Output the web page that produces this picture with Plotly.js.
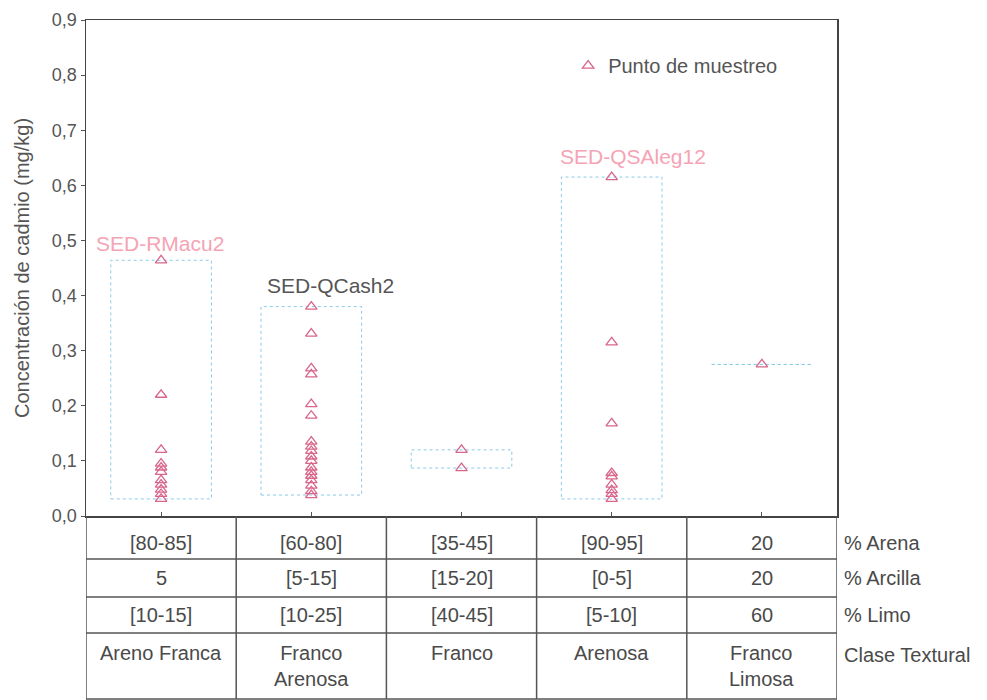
<!DOCTYPE html>
<html>
<head>
<meta charset="utf-8">
<script src="https://cdn.plot.ly/plotly-3.0.1.min.js"></script>
<style>html,body{margin:0;padding:0;background:#fff;}#chart{width:987px;height:700px;}</style>
</head>
<body>
<div id="chart"></div>
<script>
// ---- data ----
const categories = ["Areno Franca", "Franco Arenosa", "Franco", "Arenosa", "Franco Limosa"];
const cadmio0 = [0.464, 0.22, 0.12, 0.095, 0.088, 0.08, 0.065, 0.057, 0.048, 0.04, 0.031];
const cadmio1 = [0.38, 0.331, 0.268, 0.257, 0.203, 0.182, 0.135, 0.126, 0.118, 0.108, 0.1, 0.088, 0.08, 0.073, 0.065, 0.055, 0.045, 0.038];
const cadmio2 = [0.12, 0.087];
const cadmio3 = [0.615, 0.315, 0.168, 0.078, 0.072, 0.057, 0.047, 0.04, 0.031];
const cadmio4 = [0.275];
const series = [cadmio0, cadmio1, cadmio2, cadmio3, cadmio4];

const pctArena   = ["[80-85]", "[60-80]", "[35-45]", "[90-95]", "20"];
const pctArcilla = ["5", "[5-15]", "[15-20]", "[0-5]", "20"];
const pctLimo    = ["[10-15]", "[10-25]", "[40-45]", "[5-10]", "60"];
const claseTextural = ["Areno Franca", "Franco<br>Arenosa", "Franco", "Arenosa", "Franco<br>Limosa"];
const rowLabels = ["% Arena", "% Arcilla", "% Limo", "Clase Textural"];

const sampleLabels = ["SED-RMacu2", "SED-QCash2", "SED-QSAleg12"];
const sampleLabelCat = [-0.01, 1.13, 3.14];
const sampleLabelY = [0.495, 0.418, 0.652];
const sampleLabelColor = ["#f5a3b5", "#555555", "#f5a3b5"];

// ---- traces ----
const xs = [], ys = [];
series.forEach((arr, i) => arr.forEach(v => { xs.push(i); ys.push(v); }));

const traces = [{
  type: "scatter", mode: "markers", name: "Punto de muestreo",
  x: xs, y: ys,
  marker: {symbol: "triangle-up-open", size: 10, color: "#d8668a", line: {width: 1.3, color: "#d8668a"}},
  hoverinfo: "y"
}];

// ---- shapes ----
const shapes = [];
const hw = 0.335;
series.forEach((arr, i) => {
  const mn = Math.min(...arr), mx = Math.max(...arr);
  shapes.push({type: "rect", xref: "x", yref: "y", x0: i - hw, x1: i + hw, y0: mn, y1: mx,
    line: {color: "#8ccbe8", width: 1, dash: "dot"}, layer: "below"});
});
// table geometry (paper coordinates below the plot)
const plotTopPx = 20, plotBotPx = 516, plotH = plotBotPx - plotTopPx;
const py = p => (plotBotPx - p) / plotH;
const rowLinesPx = [559, 597, 633, 699];
const tableBottom = py(699);
const lineStyle = {color: "#555", width: 1.5};
rowLinesPx.forEach(p => {
  shapes.push({type: "line", xref: "paper", yref: "paper", x0: 0, x1: 1, y0: py(p), y1: py(p), line: lineStyle});
});
for (let i = 0; i <= categories.length; i++) {
  shapes.push({type: "line", xref: "x", yref: "paper", x0: i - 0.5, x1: i - 0.5, y0: 0, y1: tableBottom, line: lineStyle});
}

// ---- annotations ----
const annotations = [];
const txtFont = {family: "Liberation Sans, Arial, sans-serif", size: 20, color: "#4a4a4a"};
const rowCentersPx = [543, 578, 615];
[pctArena, pctArcilla, pctLimo].forEach((row, r) => {
  row.forEach((t, i) => annotations.push({xref: "x", yref: "paper", x: i, y: py(rowCentersPx[r]),
    text: t, showarrow: false, font: txtFont, xanchor: "center", yanchor: "middle"}));
});
claseTextural.forEach((t, i) => annotations.push({xref: "x", yref: "paper", x: i, y: py(640),
  text: t, showarrow: false, font: txtFont, xanchor: "center", yanchor: "top"}));
const rowLabelPx = [543, 578, 615, 655];
rowLabels.forEach((t, r) => annotations.push({xref: "paper", yref: "paper", x: 1.006, y: py(rowLabelPx[r]),
  text: t, showarrow: false, font: txtFont, xanchor: "left", yanchor: "middle"}));
sampleLabels.forEach((t, i) => annotations.push({xref: "x", yref: "y", x: sampleLabelCat[i], y: sampleLabelY[i],
  text: t, showarrow: false, xanchor: "center", yanchor: "middle",
  font: {family: "Liberation Sans, Arial, sans-serif", size: 21, color: sampleLabelColor[i]}}));

const layout = {
  width: 987, height: 700,
  margin: {l: 86, r: 150, t: 20, b: 184},
  paper_bgcolor: "#ffffff", plot_bgcolor: "#ffffff",
  separators: ",.",
  font: {family: "Liberation Sans, Arial, sans-serif", color: "#555"},
  showlegend: true,
  legend: {x: 0.642, y: 0.908, xanchor: "left", yanchor: "middle", bgcolor: "rgba(0,0,0,0)",
    font: {family: "Liberation Sans, Arial, sans-serif", size: 20, color: "#555"}},
  xaxis: {range: [-0.5, 4.5], tickvals: [0, 1, 2, 3, 4], ticktext: ["", "", "", "", ""],
    showgrid: false, zeroline: false, showline: true, linecolor: "#444", linewidth: 1.5, mirror: true,
    ticks: "inside", ticklen: 4, tickcolor: "#555", fixedrange: true},
  yaxis: {range: [0, 0.9], dtick: 0.1, tickformat: ".1f", showgrid: false, zeroline: false,
    showline: true, linecolor: "#444", linewidth: 1.5, mirror: true, ticks: "outside", ticklen: 4, tickcolor: "#555",
    tickfont: {size: 18, color: "#555"},
    title: {text: "Concentración de cadmio (mg/kg)", font: {size: 20, color: "#555"}, standoff: 17},
    fixedrange: true},
  shapes: shapes,
  annotations: annotations
};

Plotly.newPlot("chart", traces, layout, {displayModeBar: false, staticPlot: true});
</script>
</body>
</html>
